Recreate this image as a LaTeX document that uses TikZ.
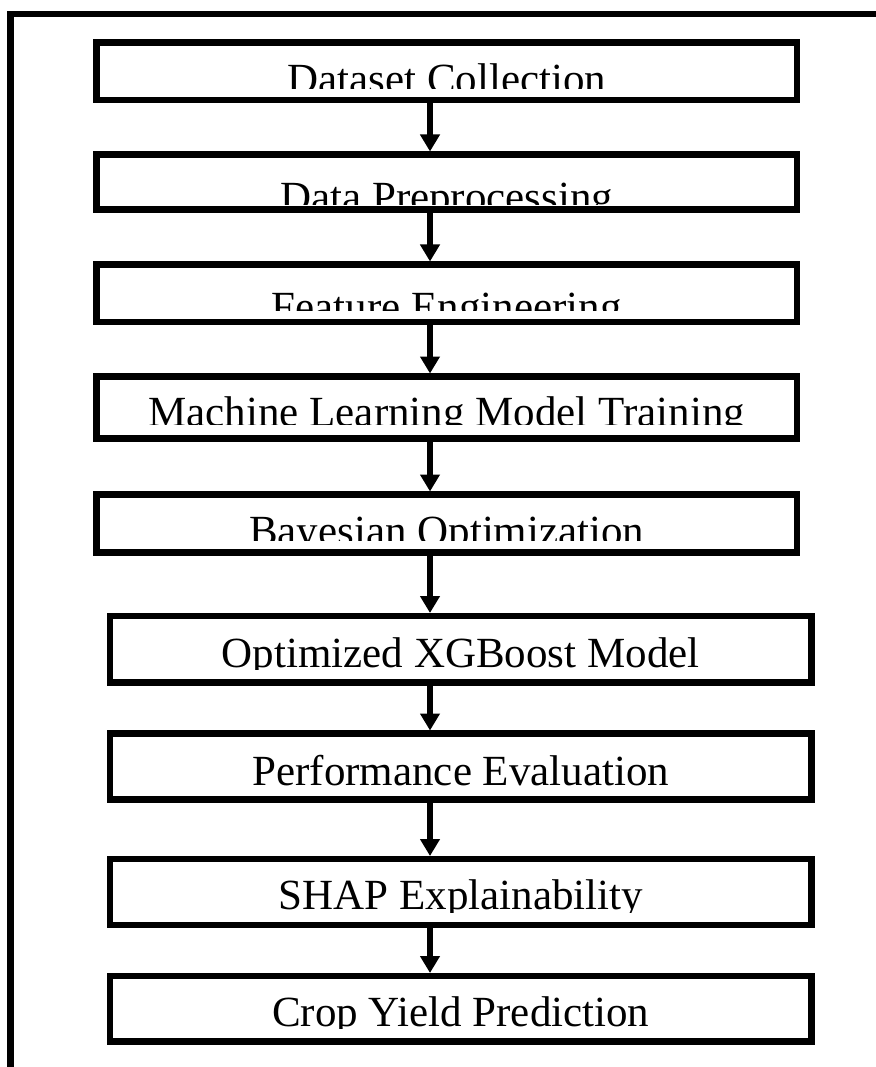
\documentclass[tikz,border=0pt]{standalone}
\usepackage{fontspec}
\setmainfont{Liberation Serif}
\usetikzlibrary{arrows.meta}
\tikzset{
  stagebox/.style={draw=black, line width=6.5pt, inner sep=0pt, outer sep=0pt, rectangle},
  stagetext/.style={anchor=base, inner sep=0pt, font=\fontsize{43}{50}\selectfont},
  flowarrow/.style={line width=6pt, -{Triangle[width=19pt,length=17pt]}, shorten >=3pt},
  framestroke/.style={line width=6.5pt, line join=miter}
}
% name, left, top, right, bottom, baseline, cut, text
\newcommand\stagebox[8]{%
  \begin{scope}
    \clip (#2,#3) rectangle (#4,#7);
    \node[stagetext] at ({(#2+#4)/2},#6) {#8};
  \end{scope}
  \node[stagebox, minimum width={(#4-#2)*1pt}, minimum height={(#5-#3)*1pt}] (#1) at ({(#2+#4)/2},{(#3+#5)/2}) {};
}
\begin{document}
\begin{tikzpicture}[x=1pt,y=-1pt]
\useasboundingbox (0,0) rectangle (875,1067);
\fill[white] (0,0) rectangle (875,1067);
\draw[framestroke] (10.5,1070) -- (10.5,14) -- (878,14);
\stagebox{b1}{96.5}{42.5}{797}{100}{93.5}{88.5}{Dataset Collection}
\stagebox{b2}{96.5}{154.5}{797}{209.5}{212}{205}{Data Preprocessing}
\stagebox{b3}{96.5}{264.5}{797}{322}{321}{310}{Feature Engineering}
\stagebox{b4}{96.5}{376.5}{797}{438.5}{426}{424}{Machine Learning Model Training}
\stagebox{b5}{96.5}{494.5}{797}{552.5}{545}{540}{Bayesian Optimization}
\stagebox{b6}{110}{616}{811.5}{682.5}{667}{669}{Optimized XGBoost Model}
\stagebox{b7}{110}{733.5}{811.5}{799.5}{785}{796}{Performance Evaluation}
\stagebox{b8}{110}{859}{811.5}{925}{909}{912}{SHAP Explainability}
\stagebox{b9}{110}{976}{811.5}{1041.5}{1026}{1028}{Crop Yield Prediction}
\coordinate (ax) at (430,0);
\draw[flowarrow] (b1.south -| ax) -- (b2.north -| ax);
\draw[flowarrow] (b2.south -| ax) -- (b3.north -| ax);
\draw[flowarrow] (b3.south -| ax) -- (b4.north -| ax);
\draw[flowarrow] (b4.south -| ax) -- (b5.north -| ax);
\draw[flowarrow] (b5.south -| ax) -- (b6.north -| ax);
\draw[flowarrow] (b6.south -| ax) -- (b7.north -| ax);
\draw[flowarrow] (b7.south -| ax) -- (b8.north -| ax);
\draw[flowarrow] (b8.south -| ax) -- (b9.north -| ax);
\end{tikzpicture}
\end{document}
